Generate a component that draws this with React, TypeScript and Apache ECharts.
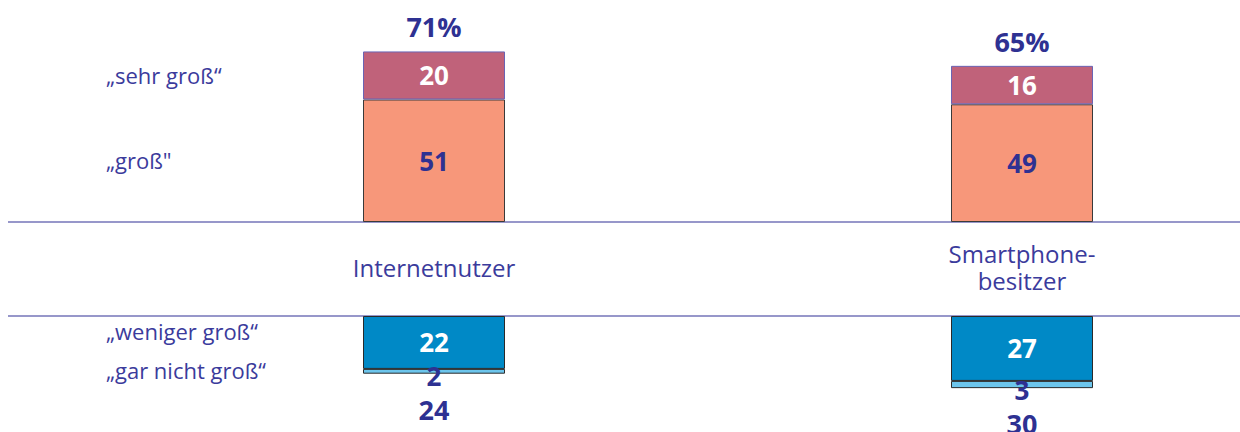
import React, { useEffect, useRef } from "react";
import * as echarts from "echarts";

const categories = ["Internetnutzer", "Smartphone-\nbesitzer"];
const sehrGross = [20, 16];
const gross = [51, 49];
const wenigerGross = [22, 27];
const garNichtGross = [2, 3];
const totalPositive = [71, 65];
const totalNegative = [24, 30];
const seriesNames = ["„sehr groß“", "„groß\"", "„weniger groß“", "„gar nicht groß“"];

const FONT = "'Open Sans', 'DejaVu Sans', sans-serif";
const DARK = "#2e3192";
const LABEL_BLUE = "#3b3b9c";
const LINE = "#7474b8";

export default function App() {
  const ref = useRef<HTMLDivElement>(null);
  useEffect(() => {
    if (!ref.current) return;
    const chart = echarts.init(ref.current, undefined, { renderer: "svg" });
    const numLabel = (color: string, extra: any = {}) => ({
      show: true,
      position: "inside",
      color,
      fontFamily: FONT,
      fontWeight: "bold",
      fontSize: 26,
      ...extra,
    });
    const totalLabel = (position: string, distance: number, suffix: string) => ({
      show: true,
      position,
      distance,
      color: DARK,
      opacity: 1,
      fontFamily: FONT,
      fontWeight: "bold",
      fontSize: 27,
      formatter: (p: any) => `${p.value}${suffix}`,
    });
    const catAxis = (gridIndex: number, extra: any = {}) => ({
      gridIndex,
      type: "category",
      data: categories,
      boundaryGap: false,
      axisLine: { show: false },
      axisTick: { show: false },
      axisLabel: { show: false },
      splitLine: { show: false },
      ...extra,
    });
    const barBase = { type: "bar", barWidth: 142, clip: false };
    chart.setOption({
      animation: false,
      grid: [
        { left: 434, width: 588, top: 1, height: 221 },
        { left: 434, width: 588, top: 316, height: 115.4 },
      ],
      xAxis: [
        catAxis(0),
        catAxis(1, {
          position: "top",
          axisLabel: {
            show: true,
            interval: 0,
            margin: 49,
            verticalAlign: "middle",
            align: "center",
            color: LABEL_BLUE,
            fontFamily: FONT,
            fontSize: 24,
            lineHeight: 27,
          },
        }),
      ],
      yAxis: [
        { gridIndex: 0, type: "value", min: 0, max: 92, show: false },
        { gridIndex: 1, type: "value", min: 0, max: 48, inverse: true, show: false },
      ],
      graphic: [
        { type: "line", shape: { x1: 8, y1: 222, x2: 1240, y2: 222 }, style: { stroke: LINE, lineWidth: 1.6 } },
        { type: "line", shape: { x1: 8, y1: 316, x2: 1240, y2: 316 }, style: { stroke: LINE, lineWidth: 1.6 } },
        { type: "text", x: 106, y: 75, style: { text: seriesNames[0], fontSize: 22, fontFamily: FONT, fill: LABEL_BLUE, verticalAlign: "middle" } },
        { type: "text", x: 106, y: 160, style: { text: seriesNames[1], fontSize: 22, fontFamily: FONT, fill: LABEL_BLUE, verticalAlign: "middle" } },
        { type: "text", x: 106, y: 331, style: { text: seriesNames[2], fontSize: 22, fontFamily: FONT, fill: LABEL_BLUE, verticalAlign: "middle" } },
        { type: "text", x: 106, y: 370, style: { text: seriesNames[3], fontSize: 22, fontFamily: FONT, fill: LABEL_BLUE, verticalAlign: "middle" } },
      ],
      series: [
        {
          ...barBase,
          name: seriesNames[1],
          xAxisIndex: 0,
          yAxisIndex: 0,
          stack: "pos",
          data: gross,
          itemStyle: { color: "#f7977a", borderColor: "#3a3a3a", borderWidth: 1 },
          label: numLabel(DARK),
        },
        {
          ...barBase,
          name: seriesNames[0],
          xAxisIndex: 0,
          yAxisIndex: 0,
          stack: "pos",
          data: sehrGross,
          itemStyle: { color: "#c0627a", borderColor: "#6a64b4", borderWidth: 1 },
          label: numLabel("#ffffff"),
        },
        {
          ...barBase,
          name: seriesNames[2],
          xAxisIndex: 1,
          yAxisIndex: 1,
          stack: "neg",
          data: wenigerGross,
          itemStyle: { color: "#0089c6", borderColor: "#2a2a2a", borderWidth: 1 },
          label: numLabel("#ffffff"),
        },
        {
          ...barBase,
          name: seriesNames[3],
          xAxisIndex: 1,
          yAxisIndex: 1,
          stack: "neg",
          data: garNichtGross,
          itemStyle: { color: "#6cc5ec", borderColor: "#2a2a2a", borderWidth: 1 },
          label: numLabel(DARK, { offset: [0, 5] }),
        },
        {
          type: "scatter",
          xAxisIndex: 0,
          yAxisIndex: 0,
          symbolSize: 0,
          clip: false,
          itemStyle: { opacity: 1 },
          data: totalPositive,
          label: totalLabel("top", 11, "%"),
        },
        {
          type: "scatter",
          xAxisIndex: 1,
          yAxisIndex: 1,
          symbolSize: 0,
          clip: false,
          itemStyle: { opacity: 1 },
          data: totalNegative,
          label: totalLabel("bottom", 22, ""),
        },
      ],
    });
    return () => chart.dispose();
  }, []);
  return (
    <div
      ref={ref}
      style={{ position: "absolute", left: 0, top: 0, width: 1240, height: 432 }}
    />
  );
}
